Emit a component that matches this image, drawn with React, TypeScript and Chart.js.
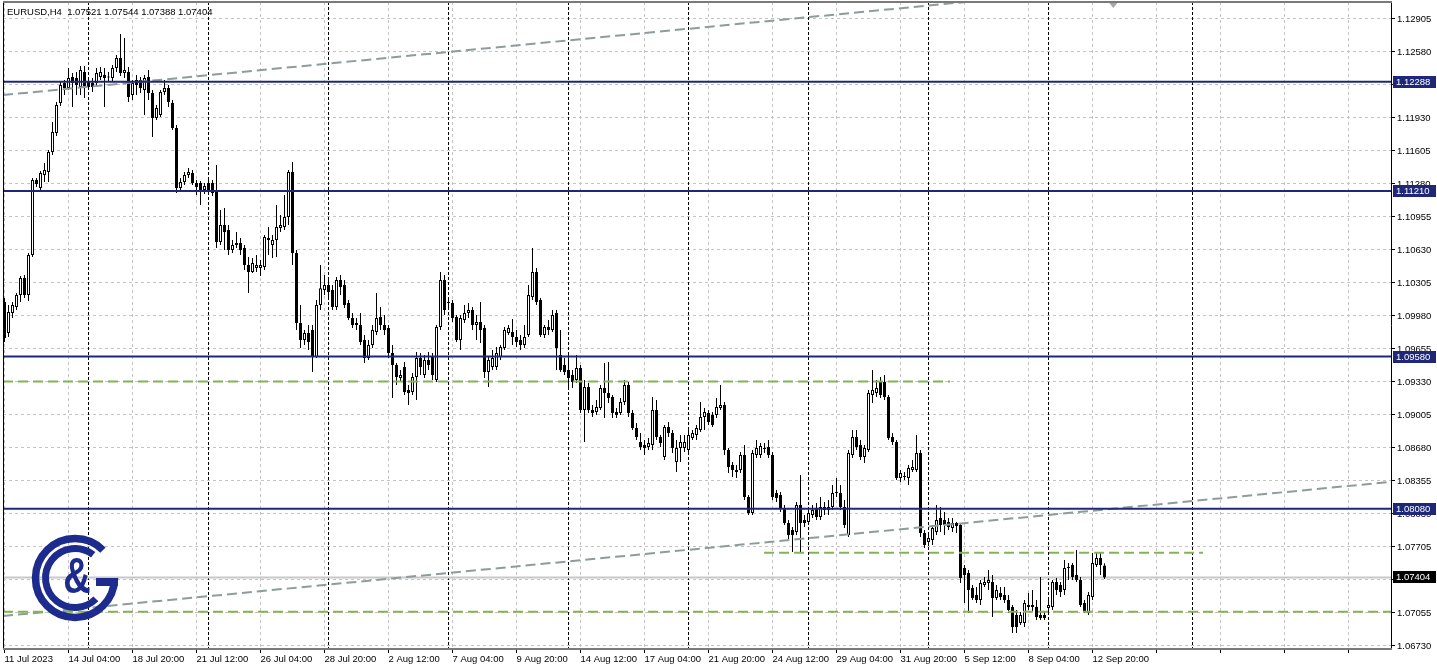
import React, { useEffect, useRef } from 'react';
import { Chart, registerables } from 'chart.js';

Chart.register(...registerables);

// ---------- DATA (EURUSD H4, bar 0 = 11 Jul 2023 12:00) ----------
const opens = [
  1.10117, 1.09812, 1.10009, 1.10068, 1.10186, 1.10354, 1.10186, 1.10580, 1.11319, 1.11240,
  1.11368, 1.11398, 1.11595, 1.11782, 1.12077, 1.12275, 1.12225, 1.12334, 1.12324, 1.12235,
  1.12383, 1.12285, 1.12275, 1.12275, 1.12334, 1.12353, 1.12334, 1.12324, 1.12422, 1.12521,
  1.12373, 1.12383, 1.12156, 1.12304, 1.12304, 1.12206, 1.12334, 1.12176, 1.11930, 1.11959,
  1.12186, 1.12225, 1.12077, 1.11831, 1.11240, 1.11299, 1.11368, 1.11388, 1.11289, 1.11289,
  1.11221, 1.11289, 1.11289, 1.11221, 1.10708, 1.10876, 1.10826, 1.10630, 1.10679, 1.10698,
  1.10649, 1.10482, 1.10413, 1.10452, 1.10452, 1.10462, 1.10748, 1.10679, 1.10728, 1.10846,
  1.10857, 1.10955, 1.11398, 1.10600, 1.09910, 1.09743, 1.09812, 1.09842, 1.09576, 1.10088,
  1.10235, 1.10285, 1.10235, 1.10068, 1.10334, 1.10285, 1.10107, 1.09960, 1.09910, 1.09890,
  1.09743, 1.09566, 1.09694, 1.09822, 1.09970, 1.09890, 1.09862, 1.09615, 1.09497, 1.09369,
  1.09477, 1.09250, 1.09230, 1.09378, 1.09566, 1.09398, 1.09546, 1.09576, 1.09349, 1.09872,
  1.10334, 1.10117, 1.10107, 1.09970, 1.09743, 1.09940, 1.10009, 1.10039, 1.09890, 1.09920,
  1.09862, 1.09428, 1.09477, 1.09477, 1.09576, 1.09664, 1.09812, 1.09822, 1.09773, 1.09743,
  1.09694, 1.09792, 1.10166, 1.10413, 1.10137, 1.09792, 1.09872, 1.09842, 1.10009, 1.09595,
  1.09497, 1.09447, 1.09398, 1.09349, 1.09467, 1.09053, 1.09280, 1.09053, 1.09033, 1.09073,
  1.09270, 1.09221, 1.09181, 1.09033, 1.09024, 1.09132, 1.09300, 1.09024, 1.08876, 1.08738,
  1.08709, 1.08689, 1.08709, 1.09053, 1.08787, 1.08590, 1.08886, 1.08827, 1.08541, 1.08679,
  1.08679, 1.08659, 1.08777, 1.08807, 1.08856, 1.08984, 1.09024, 1.09004, 1.09004, 1.09073,
  1.09102, 1.08659, 1.08511, 1.08442, 1.08462, 1.08610, 1.08197, 1.08039, 1.08610, 1.08610,
  1.08669, 1.08689, 1.08610, 1.08236, 1.08216, 1.08088, 1.07940, 1.07871, 1.07851, 1.08118,
  1.07970, 1.07950, 1.08019, 1.08088, 1.08000, 1.08098, 1.08098, 1.08098, 1.08236, 1.08236,
  1.08098, 1.07822, 1.08610, 1.08787, 1.08709, 1.08590, 1.08659, 1.09201, 1.09221, 1.09329,
  1.09329, 1.09181, 1.08787, 1.08738, 1.08384, 1.08393, 1.08384, 1.08462, 1.08462, 1.08630,
  1.07842, 1.07753, 1.07773, 1.07851, 1.07990, 1.07970, 1.07950, 1.07891, 1.07940, 1.07921,
  1.07497, 1.07448, 1.07300, 1.07231, 1.07182, 1.07330, 1.07349, 1.07359, 1.07202, 1.07251,
  1.07231, 1.07182, 1.07113, 1.07034, 1.06956, 1.06956, 1.07113, 1.07113, 1.07113, 1.07034,
  1.07034, 1.07103, 1.07113, 1.07359, 1.07330, 1.07280, 1.07497, 1.07527, 1.07428, 1.07379,
  1.07152, 1.07054, 1.07211, 1.07527, 1.07595, 1.07521,
];

const highs = [
  1.10157, 1.10088, 1.10117, 1.10206, 1.10373, 1.10383, 1.10600, 1.11339, 1.11339, 1.11407,
  1.11486, 1.11615, 1.11890, 1.12087, 1.12285, 1.12304, 1.12422, 1.12373, 1.12383, 1.12442,
  1.12442, 1.12324, 1.12324, 1.12422, 1.12432, 1.12422, 1.12383, 1.12452, 1.12550, 1.12757,
  1.12718, 1.12432, 1.12304, 1.12353, 1.12334, 1.12353, 1.12403, 1.12206, 1.12058, 1.12206,
  1.12304, 1.12255, 1.12107, 1.11861, 1.11339, 1.11398, 1.11437, 1.11417, 1.11319, 1.11309,
  1.11289, 1.11319, 1.11319, 1.11467, 1.11024, 1.11044, 1.10876, 1.10728, 1.10807, 1.10748,
  1.10679, 1.10561, 1.10551, 1.10580, 1.10531, 1.10777, 1.10857, 1.10777, 1.11073, 1.10975,
  1.11171, 1.11417, 1.11496, 1.10630, 1.10088, 1.09842, 1.09890, 1.09890, 1.10137, 1.10482,
  1.10383, 1.10334, 1.10285, 1.10363, 1.10383, 1.10334, 1.10137, 1.10009, 1.09960, 1.10009,
  1.09792, 1.09743, 1.09890, 1.10206, 1.10068, 1.09989, 1.09890, 1.09694, 1.09517, 1.09447,
  1.09527, 1.09300, 1.09418, 1.09625, 1.09615, 1.09595, 1.09625, 1.09615, 1.09890, 1.10413,
  1.10383, 1.10157, 1.10137, 1.09989, 1.09989, 1.10088, 1.10107, 1.10068, 1.09989, 1.10117,
  1.09890, 1.09576, 1.09645, 1.09674, 1.09694, 1.09872, 1.09890, 1.09950, 1.09842, 1.09792,
  1.09890, 1.10285, 1.10649, 1.10452, 1.10157, 1.09890, 1.09940, 1.10039, 1.10039, 1.09842,
  1.09566, 1.09595, 1.09447, 1.09595, 1.09497, 1.09349, 1.09319, 1.09102, 1.09152, 1.09300,
  1.09517, 1.09527, 1.09201, 1.09073, 1.09171, 1.09349, 1.09329, 1.09053, 1.08925, 1.08827,
  1.08758, 1.08777, 1.09181, 1.09152, 1.08807, 1.08905, 1.08935, 1.08856, 1.08758, 1.08807,
  1.08807, 1.08856, 1.08856, 1.08905, 1.09132, 1.09073, 1.09053, 1.09033, 1.09171, 1.09300,
  1.09132, 1.08679, 1.08541, 1.08511, 1.08640, 1.08709, 1.08216, 1.08659, 1.08758, 1.08728,
  1.08728, 1.08758, 1.08640, 1.08265, 1.08246, 1.08118, 1.07970, 1.07901, 1.08147, 1.08413,
  1.08019, 1.08088, 1.08118, 1.08137, 1.08197, 1.08147, 1.08167, 1.08315, 1.08384, 1.08315,
  1.08167, 1.08659, 1.08856, 1.08856, 1.08758, 1.08709, 1.09250, 1.09447, 1.09349, 1.09378,
  1.09398, 1.09201, 1.08827, 1.08758, 1.08462, 1.08442, 1.08511, 1.08561, 1.08807, 1.08659,
  1.07871, 1.07842, 1.07921, 1.08118, 1.08098, 1.08049, 1.07990, 1.07990, 1.07950, 1.07940,
  1.07527, 1.07477, 1.07330, 1.07310, 1.07379, 1.07408, 1.07477, 1.07428, 1.07330, 1.07310,
  1.07310, 1.07231, 1.07133, 1.07083, 1.07064, 1.07182, 1.07251, 1.07280, 1.07182, 1.07408,
  1.07064, 1.07182, 1.07379, 1.07399, 1.07359, 1.07576, 1.07546, 1.07546, 1.07674, 1.07408,
  1.07182, 1.07261, 1.07645, 1.07645, 1.07645, 1.07544,
];

const lows = [
  1.09723, 1.09773, 1.09960, 1.10039, 1.10117, 1.10157, 1.10127, 1.10561, 1.11250, 1.11221,
  1.11299, 1.11299, 1.11565, 1.11752, 1.12048, 1.12156, 1.12206, 1.12038, 1.12156, 1.12156,
  1.12127, 1.12206, 1.12186, 1.12235, 1.12304, 1.12038, 1.12285, 1.12285, 1.12383, 1.12343,
  1.12324, 1.12087, 1.12107, 1.12156, 1.12176, 1.11959, 1.12107, 1.11743, 1.11910, 1.11940,
  1.12156, 1.12038, 1.11812, 1.11191, 1.11201, 1.11270, 1.11339, 1.11270, 1.11171, 1.11073,
  1.11181, 1.11171, 1.11162, 1.10649, 1.10679, 1.10630, 1.10580, 1.10600, 1.10649, 1.10580,
  1.10433, 1.10206, 1.10403, 1.10413, 1.10373, 1.10433, 1.10580, 1.10551, 1.10561, 1.10807,
  1.10826, 1.10876, 1.10482, 1.09842, 1.09664, 1.09694, 1.09645, 1.09428, 1.09566, 1.10039,
  1.10186, 1.10137, 1.10039, 1.10039, 1.10186, 1.10058, 1.09940, 1.09862, 1.09842, 1.09694,
  1.09517, 1.09546, 1.09664, 1.09792, 1.09842, 1.09792, 1.09566, 1.09171, 1.09300, 1.09329,
  1.09201, 1.09102, 1.09201, 1.09152, 1.09398, 1.09369, 1.09447, 1.09349, 1.09329, 1.09842,
  1.09989, 1.10039, 1.09920, 1.09723, 1.09645, 1.09910, 1.09960, 1.09842, 1.09743, 1.09714,
  1.09369, 1.09280, 1.09447, 1.09447, 1.09546, 1.09645, 1.09792, 1.09694, 1.09674, 1.09645,
  1.09664, 1.09773, 1.10137, 1.10088, 1.09773, 1.09763, 1.09792, 1.09822, 1.09447, 1.09428,
  1.09398, 1.09270, 1.09270, 1.09319, 1.09024, 1.08738, 1.09024, 1.08984, 1.09004, 1.09053,
  1.08974, 1.09122, 1.08974, 1.08974, 1.09004, 1.09102, 1.08984, 1.08856, 1.08758, 1.08659,
  1.08610, 1.08659, 1.08659, 1.08758, 1.08689, 1.08561, 1.08787, 1.08630, 1.08442, 1.08541,
  1.08640, 1.08630, 1.08758, 1.08758, 1.08836, 1.08856, 1.08905, 1.08886, 1.08974, 1.09053,
  1.08610, 1.08432, 1.08393, 1.08384, 1.08432, 1.08167, 1.08019, 1.08019, 1.08580, 1.08580,
  1.08630, 1.08580, 1.08167, 1.08147, 1.08049, 1.07921, 1.07773, 1.07654, 1.07822, 1.07654,
  1.07901, 1.07921, 1.07990, 1.07970, 1.07970, 1.08019, 1.08019, 1.08069, 1.08197, 1.08069,
  1.07891, 1.07802, 1.08580, 1.08659, 1.08561, 1.08531, 1.08640, 1.09122, 1.09181, 1.09171,
  1.09152, 1.08758, 1.08709, 1.08364, 1.08344, 1.08364, 1.08315, 1.08442, 1.08442, 1.07802,
  1.07694, 1.07714, 1.07723, 1.07822, 1.07851, 1.07822, 1.07871, 1.07851, 1.07842, 1.07349,
  1.07152, 1.07054, 1.07182, 1.07152, 1.07133, 1.07310, 1.07280, 1.07015, 1.07182, 1.07182,
  1.07152, 1.07054, 1.06857, 1.06857, 1.06936, 1.06916, 1.07083, 1.07064, 1.06985, 1.06985,
  1.06985, 1.07064, 1.07083, 1.07231, 1.07211, 1.07231, 1.07379, 1.07379, 1.07359, 1.07113,
  1.07054, 1.07034, 1.07182, 1.07507, 1.07428, 1.07388,
];

const closes = [
  1.09763, 1.10019, 1.10088, 1.10186, 1.10354, 1.10186, 1.10580, 1.11319, 1.11280, 1.11388,
  1.11417, 1.11595, 1.11792, 1.12058, 1.12255, 1.12225, 1.12324, 1.12275, 1.12255, 1.12403,
  1.12235, 1.12235, 1.12235, 1.12373, 1.12383, 1.12324, 1.12330, 1.12422, 1.12521, 1.12373,
  1.12403, 1.12137, 1.12275, 1.12255, 1.12225, 1.12324, 1.12176, 1.11930, 1.12028, 1.12186,
  1.12225, 1.12087, 1.11831, 1.11240, 1.11299, 1.11368, 1.11398, 1.11289, 1.11250, 1.11201,
  1.11260, 1.11221, 1.11191, 1.10708, 1.10876, 1.10807, 1.10630, 1.10679, 1.10698, 1.10630,
  1.10482, 1.10413, 1.10501, 1.10482, 1.10482, 1.10757, 1.10728, 1.10728, 1.10857, 1.10876,
  1.10955, 1.11398, 1.10600, 1.09910, 1.09743, 1.09812, 1.09723, 1.09576, 1.10088, 1.10254,
  1.10285, 1.10215, 1.10068, 1.10334, 1.10265, 1.10088, 1.09960, 1.09890, 1.09890, 1.09723,
  1.09566, 1.09694, 1.09842, 1.09960, 1.09890, 1.09842, 1.09615, 1.09497, 1.09378, 1.09398,
  1.09230, 1.09221, 1.09378, 1.09566, 1.09477, 1.09546, 1.09497, 1.09398, 1.09872, 1.10334,
  1.10039, 1.10107, 1.09960, 1.09743, 1.09960, 1.10009, 1.10039, 1.09890, 1.09920, 1.09842,
  1.09428, 1.09546, 1.09566, 1.09615, 1.09674, 1.09842, 1.09862, 1.09773, 1.09723, 1.09694,
  1.09773, 1.10186, 1.10413, 1.10117, 1.09792, 1.09872, 1.09842, 1.09989, 1.09664, 1.09447,
  1.09428, 1.09369, 1.09329, 1.09467, 1.09053, 1.09280, 1.09053, 1.09024, 1.09083, 1.09270,
  1.09221, 1.09171, 1.09024, 1.09004, 1.09132, 1.09300, 1.09024, 1.08876, 1.08787, 1.08689,
  1.08679, 1.08728, 1.09053, 1.08787, 1.08728, 1.08886, 1.08827, 1.08679, 1.08679, 1.08738,
  1.08738, 1.08807, 1.08827, 1.08876, 1.08984, 1.09033, 1.08935, 1.08905, 1.09083, 1.09102,
  1.08659, 1.08492, 1.08462, 1.08462, 1.08610, 1.08197, 1.08039, 1.08630, 1.08679, 1.08699,
  1.08679, 1.08610, 1.08197, 1.08187, 1.08088, 1.07940, 1.07822, 1.07822, 1.08118, 1.07940,
  1.07940, 1.08039, 1.08069, 1.08000, 1.08098, 1.08069, 1.08069, 1.08236, 1.08246, 1.08098,
  1.07921, 1.08630, 1.08787, 1.08689, 1.08590, 1.08679, 1.09221, 1.09250, 1.09270, 1.09201,
  1.09181, 1.08777, 1.08738, 1.08384, 1.08432, 1.08400, 1.08482, 1.08492, 1.08630, 1.07842,
  1.07723, 1.07792, 1.07891, 1.07970, 1.07921, 1.07921, 1.07901, 1.07940, 1.07911, 1.07399,
  1.07428, 1.07280, 1.07202, 1.07182, 1.07349, 1.07359, 1.07379, 1.07202, 1.07280, 1.07211,
  1.07182, 1.07083, 1.06916, 1.06916, 1.07034, 1.07152, 1.07133, 1.07133, 1.07015, 1.07005,
  1.07005, 1.07133, 1.07359, 1.07280, 1.07261, 1.07497, 1.07507, 1.07408, 1.07379, 1.07133,
  1.07064, 1.07231, 1.07546, 1.07595, 1.07527, 1.07404,
];

// Time axis: a label every 16 H4 bars
const xTickBars = [0, 16, 32, 48, 64, 80, 96, 112, 128, 144, 160, 176, 192, 208, 224, 240, 256, 272, 288, 304, 320, 336];
const xTickLabels = [
  '11 Jul 2023', '14 Jul 04:00', '18 Jul 20:00', '21 Jul 12:00', '26 Jul 04:00', '28 Jul 20:00',
  '2 Aug 12:00', '7 Aug 04:00', '9 Aug 20:00', '14 Aug 12:00', '17 Aug 04:00', '21 Aug 20:00',
  '24 Aug 12:00', '29 Aug 04:00', '31 Aug 20:00', '5 Sep 12:00', '8 Sep 04:00', '12 Sep 20:00',
];
const weekSeparatorBars = [21, 51, 81, 111, 141, 171, 201, 231, 261, 297];

const yTickValues = [
  1.12905, 1.12580, 1.12255, 1.11930, 1.11605, 1.11280, 1.10955, 1.10630, 1.10305, 1.09980,
  1.09655, 1.09330, 1.09005, 1.08680, 1.08355, 1.08030, 1.07705, 1.07380, 1.07055, 1.06730,
];

const levelPrices = [1.12288, 1.11210, 1.09580, 1.08080];
const bidPrice = 1.07404;
const titleText = 'EURUSD,H4  1.07521 1.07544 1.07388 1.07404';

// dashed green support/resistance segments [fromBar, toBar, price]
const greenFrom = [-0.375, 189.9, -0.375];
const greenTo = [236.4, 299.6, 346.625];
const greenPrice = [1.09334, 1.07648, 1.07067];

// grey dashed channel lines [startBar, startPrice, endBar, endPrice]
const channelStartPrice = [1.12156, 1.07024];
const channelEndPrice = [1.13478, 1.08346];
const channelStartBar = -0.375;
const channelEndBar = 346.625;

const shiftMarkBar = 277.2;

// ---------- scale bounds ----------
const X_MIN = -0.375;
const X_MAX = 346.625;
const Y_MAX = 1.1307245;
const Y_MIN = 1.0670935;

const FONT = "'Liberation Sans', Arial, sans-serif";
const NAVY = '#1f2878';
const GRID = '#c4c4c4';
const GREEN = '#82b452';
const TREND = '#8d9c9c';

function drawLogo(ctx: CanvasRenderingContext2D, cx: number, cy: number) {
  const col = '#1d2a8e';
  ctx.save();
  ctx.strokeStyle = col;
  ctx.fillStyle = col;
  ctx.lineCap = 'butt';
  ctx.lineWidth = 7.5;
  ctx.beginPath();
  ctx.arc(cx, cy, 39.5, -Math.PI / 4, 0, true);
  ctx.stroke();
  ctx.fillRect(cx + 21, cy, 22, 8);
  ctx.lineWidth = 7;
  ctx.beginPath();
  ctx.arc(cx, cy, 29.5, (-52 * Math.PI) / 180, (45 * Math.PI) / 180, true);
  ctx.stroke();
  ctx.translate(cx + 2, cy + 1);
  ctx.scale(1, 1.3);
  ctx.font = `bold 38px ${FONT}`;
  ctx.textAlign = 'center';
  ctx.textBaseline = 'middle';
  ctx.fillText('&', 0, 0);
  ctx.restore();
}

const mt4Plugin = {
  id: 'mt4Decor',
  beforeDatasetsDraw(chart: any) {
    const { ctx, chartArea: a, scales } = chart;
    const xs = scales.x;
    ctx.save();
    ctx.beginPath();
    ctx.rect(a.left, a.top, a.right - a.left, a.bottom - a.top);
    ctx.clip();
    ctx.strokeStyle = '#000';
    ctx.lineWidth = 1;
    ctx.setLineDash([3, 2]);
    for (const b of weekSeparatorBars) {
      const px = Math.floor(xs.getPixelForValue(b)) + 0.5;
      ctx.beginPath();
      ctx.moveTo(px, a.top);
      ctx.lineTo(px, a.bottom);
      ctx.stroke();
    }
    ctx.restore();
  },
  afterDraw(chart: any) {
    const { ctx, chartArea: a, scales } = chart;
    const ys = scales.y;
    const xs = scales.x;
    ctx.save();
    // frame
    ctx.setLineDash([]);
    ctx.strokeStyle = '#000';
    ctx.lineWidth = 1;
    ctx.beginPath();
    ctx.moveTo(a.left + 0.5, a.top);
    ctx.lineTo(a.left + 0.5, a.bottom);
    ctx.moveTo(a.right + 0.5, a.top);
    ctx.lineTo(a.right + 0.5, a.bottom + 1);
    ctx.stroke();
    ctx.strokeStyle = '#7a7a7a';
    ctx.lineWidth = 2;
    ctx.beginPath();
    ctx.moveTo(a.left, a.top);
    ctx.lineTo(a.right + 1, a.top);
    ctx.moveTo(a.left, a.bottom + 1);
    ctx.lineTo(a.right + 1, a.bottom + 1);
    ctx.stroke();

    // title
    ctx.fillStyle = '#000';
    ctx.font = `9.5px ${FONT}`;
    ctx.textAlign = 'left';
    ctx.textBaseline = 'middle';
    ctx.fillText(titleText, 7, 12);

    // price labels on axis
    const drawBox = (price: number, bg: string) => {
      const py = ys.getPixelForValue(price);
      ctx.fillStyle = bg;
      ctx.fillRect(a.right + 2, Math.round(py) - 6, 43, 12);
      ctx.fillStyle = '#fff';
      ctx.font = `9.5px ${FONT}`;
      ctx.textAlign = 'left';
      ctx.textBaseline = 'middle';
      ctx.fillText(price.toFixed(5), a.right + 5, Math.round(py) + 0.5);
    };
    levelPrices.forEach((p) => drawBox(p, NAVY));
    drawBox(bidPrice, '#000');

    // chart shift marker
    const mx = xs.getPixelForValue(shiftMarkBar);
    ctx.fillStyle = '#a8a8a8';
    ctx.beginPath();
    ctx.moveTo(mx - 4, a.top + 1);
    ctx.lineTo(mx + 4, a.top + 1);
    ctx.lineTo(mx, a.top + 6);
    ctx.closePath();
    ctx.fill();

    // logo
    drawLogo(ctx, a.left + 72, a.bottom - 70);
    ctx.restore();
  },
};

export default function App() {
  const ref = useRef<HTMLCanvasElement | null>(null);

  useEffect(() => {
    if (!ref.current) return;
    const idx = opens.map((_, i) => i);
    const wickData = idx.map((i) => ({ x: i, y: [lows[i], highs[i]] }));
    const bodyData = idx.map((i) => ({
      x: i,
      y: [Math.min(opens[i], closes[i]), Math.max(opens[i], closes[i])],
    }));
    const bodyFill = idx.map((i) => (closes[i] > opens[i] ? '#ffffff' : '#000000'));

    const hLine = (price: number, from = X_MIN, to = X_MAX) => [
      { x: from, y: price },
      { x: to, y: price },
    ];

    const datasets: any[] = [
      {
        type: 'line',
        label: 'bid',
        data: hLine(bidPrice),
        borderColor: '#c8c8c8',
        borderWidth: 2,
        pointRadius: 0,
        fill: false,
        order: 20,
      },
      {
        type: 'bar',
        label: 'wick',
        data: wickData,
        backgroundColor: '#000',
        borderWidth: 0,
        grouped: false,
        barPercentage: 1,
        maxBarThickness: 1,
        inflateAmount: 0,
        order: 15,
      },
      {
        type: 'bar',
        label: 'body',
        data: bodyData,
        backgroundColor: bodyFill,
        borderColor: '#000',
        borderWidth: 1,
        borderSkipped: false,
        grouped: false,
        barPercentage: 1,
        maxBarThickness: 3,
        minBarLength: 1,
        inflateAmount: 0,
        order: 14,
      },
    ];

    channelStartPrice.forEach((p, i) => {
      datasets.push({
        type: 'line',
        label: 'channel' + i,
        data: [
          { x: channelStartBar, y: p },
          { x: channelEndBar, y: channelEndPrice[i] },
        ],
        borderColor: TREND,
        borderWidth: 2,
        borderDash: [10, 5],
        pointRadius: 0,
        fill: false,
        order: 6,
      });
    });

    greenPrice.forEach((p, i) => {
      datasets.push({
        type: 'line',
        label: 'green' + i,
        data: hLine(p, greenFrom[i], greenTo[i]),
        borderColor: GREEN,
        borderWidth: 2,
        borderDash: [10, 5],
        pointRadius: 0,
        fill: false,
        order: 5,
      });
    });

    levelPrices.forEach((p, i) => {
      datasets.push({
        type: 'line',
        label: 'level' + i,
        data: hLine(p),
        borderColor: NAVY,
        borderWidth: 2,
        pointRadius: 0,
        fill: false,
        order: 2,
      });
    });

    const chart = new Chart(ref.current, {
      type: 'bar',
      data: { datasets },
      plugins: [mt4Plugin],
      options: {
        animation: false,
        responsive: false,
        devicePixelRatio: 1,
        events: [],
        layout: { padding: { left: 3, top: 2, right: 0, bottom: 0 } },
        plugins: { legend: { display: false }, tooltip: { enabled: false } },
        scales: {
          x: {
            type: 'linear',
            min: X_MIN,
            max: X_MAX,
            offset: false,
            afterBuildTicks: (s: any) => {
              s.ticks = xTickBars.map((v) => ({ value: v }));
            },
            afterFit: (s: any) => {
              s.height = 22;
              s.paddingLeft = 0;
              s.paddingRight = 0;
            },
            grid: {
              color: GRID,
              lineWidth: 1,
              offset: false,
              drawTicks: true,
              tickLength: 5,
              tickColor: '#000',
              tickWidth: 1,
              tickBorderDash: [],
            },
            border: { display: false, dash: [3, 3] },
            ticks: {
              autoSkip: false,
              maxRotation: 0,
              minRotation: 0,
              align: 'start',
              padding: 1,
              color: '#000',
              font: { family: FONT, size: 9.5 },
              callback: (_v: any, i: number) => xTickLabels[i] ?? '',
            },
          },
          y: {
            type: 'linear',
            position: 'right',
            min: Y_MIN,
            max: Y_MAX,
            afterBuildTicks: (s: any) => {
              s.ticks = yTickValues.map((v) => ({ value: v }));
            },
            afterFit: (s: any) => {
              s.width = 46;
              s.paddingTop = 0;
              s.paddingBottom = 0;
            },
            grid: {
              color: GRID,
              lineWidth: 1,
              drawTicks: true,
              tickLength: 4,
              tickColor: '#000',
              tickWidth: 1,
              tickBorderDash: [],
            },
            border: { display: false, dash: [3, 3] },
            ticks: {
              padding: 2,
              color: '#000',
              font: { family: FONT, size: 9.5 },
              callback: (v: any) => Number(v).toFixed(5),
            },
          },
        },
      } as any,
    });
    return () => chart.destroy();
  }, []);

  return (
    <div style={{ position: 'fixed', left: 0, top: 0, width: 1437, height: 670, background: '#fff' }}>
      <canvas ref={ref} width={1437} height={670} style={{ display: 'block', width: 1437, height: 670 }} />
    </div>
  );
}
